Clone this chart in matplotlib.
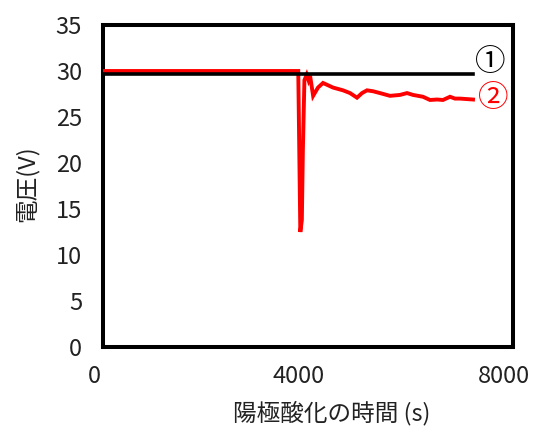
import matplotlib
matplotlib.use("Agg")
import matplotlib.pyplot as plt
import matplotlib.transforms as mtransforms

plt.rcParams['font.family'] = ['Noto Sans CJK JP', 'DejaVu Sans']

# Anodizing voltage vs. time
t_ref = [0, 7220]
v_ref = [29.7, 29.7]

t_run = [0, 3810, 3850, 3880, 3900, 3930, 3975, 4010, 4040, 4100, 4195, 4293,
         4488, 4683, 4820, 4956, 5054, 5151, 5268, 5405, 5600, 5795, 5932,
         6049, 6244, 6380, 6517, 6634, 6771, 6868, 6966, 7220]
v_run = [30.0, 30.0, 12.5, 13.8, 21.4, 29.0, 29.6, 29.0, 29.5, 27.3, 28.2, 28.7,
         28.2, 27.9, 27.6, 27.1, 27.6, 27.9, 27.8, 27.6, 27.3, 27.4, 27.6,
         27.4, 27.2, 26.85, 26.9, 26.85, 27.2, 27.0, 27.0, 26.9]

x_ticks = [0, 4000, 8000]
y_ticks = [0, 5, 10, 15, 20, 25, 30, 35]
series_labels = ['①', '②']

fig = plt.figure(figsize=(5.33, 4.28), dpi=100)
ax = fig.add_axes([103 / 533, 1 - 347 / 428, 410 / 533, 322 / 428])

ax.plot(t_run, v_run, color='#ff0000', lw=2.8, solid_joinstyle='miter', zorder=3)
ax.plot(t_ref, v_ref, color='black', lw=2.6, zorder=4)

ax.set_xlim(0, 8000)
ax.set_ylim(0, 35)
ax.set_xticks(x_ticks)
ax.set_yticks(y_ticks)
ax.tick_params(length=0, labelsize=17, labelcolor='#222222')
ax.tick_params(axis='y', pad=15)
ax.tick_params(axis='x', pad=13)
for sp in ax.spines.values():
    sp.set_linewidth(2.9)
    sp.set_color('black')

shift = mtransforms.ScaledTranslation(-9 / 100, 0, fig.dpi_scale_trans)
for lbl in ax.get_xticklabels():
    lbl.set_transform(lbl.get_transform() + shift)

ax.text(7560, 30.9, series_labels[0], color='black', fontsize=22,
        ha='center', va='center', clip_on=False)
ax.text(7610, 27.0, series_labels[1], color='#ff0000', fontsize=22,
        ha='center', va='center', clip_on=False)

fig.text(332 / 533, 1 - 413 / 428, '陽極酸化の時間 (s)', fontsize=17,
         ha='center', va='center', color='#222222')
fig.text(27 / 533, 1 - 184 / 428, '電圧(V)', fontsize=17, rotation=90,
         ha='center', va='center', color='#222222')

fig.savefig('out.png', dpi=100, facecolor='white')
